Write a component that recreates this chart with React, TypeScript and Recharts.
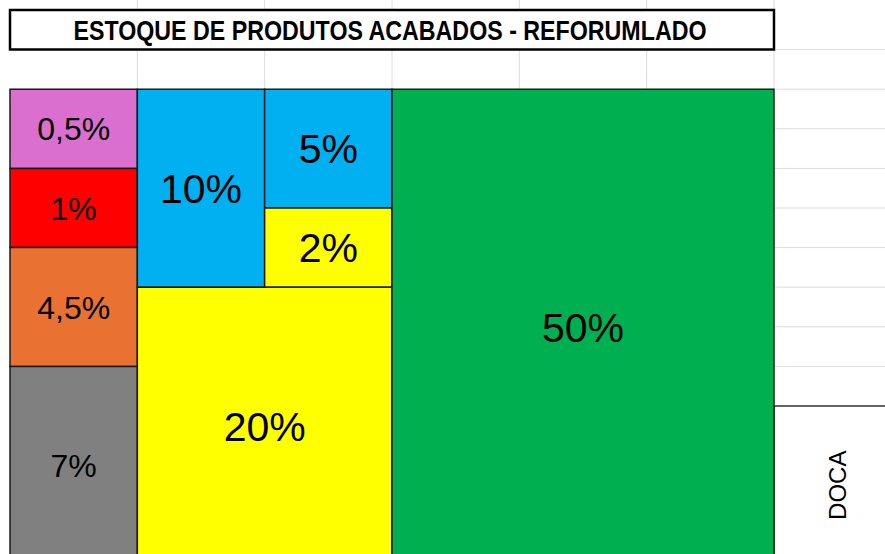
import { ComposedChart, XAxis, YAxis, CartesianGrid, ReferenceArea, Scatter } from "recharts";

// sheet layout: one unit = one spreadsheet column / row
const title = "ESTOQUE DE PRODUTOS ACABADOS - REFORUMLADO";
const dockLabel = "DOCA";

const blockShares = [0.5, 1, 4.5, 7, 10, 5, 2, 20, 50];
const blockColFrom = [0, 0, 0, 0, 1, 2, 2, 1, 3];
const blockColTo = [1, 1, 1, 1, 2, 3, 3, 3, 6];
const blockRowFrom = [2, 4, 6, 9, 2, 2, 5, 7, 2];
const blockRowTo = [4, 6, 9, 14, 7, 5, 7, 14, 14];

const dockCol = [6, 7];
const dockRow = [10, 14];

const colTicks = [1, 2, 3, 4, 5, 6];
const rowTicks = [1, 2, 3, 4, 5, 6, 7, 8, 9, 10, 11, 12, 13];

const blockColors = ["#DA6FCF", "#FF0000", "#E97132", "#808080", "#00B0F0", "#00B0F0", "#FFFF00", "#FFFF00", "#00B050"];
const labelSizes = [32, 32, 32, 32, 41, 41, 41, 41, 41];

const FONT = "'Liberation Sans', Arial, sans-serif";
const W = 885;
const H = 554;
const BLEED = 20; // chart is drawn a bit larger than the page so grid edges fall outside
const ORIGIN = 10; // page offset of the sheet's first cell
const COL_W = 127.33;
const ROW_H = 39.6;

const fmt = (v: number) => `${String(v).replace(".", ",")}%`;

const labelData = [
  ...blockShares.map((v, i) => ({
    col: (blockColFrom[i] + blockColTo[i]) / 2,
    row: (blockRowFrom[i] + blockRowTo[i]) / 2,
    text: fmt(v),
    size: labelSizes[i],
    angle: 0,
  })),
  { col: (dockCol[0] + dockCol[1]) / 2, row: (dockRow[0] + dockRow[1]) / 2, text: dockLabel, size: 24, angle: -90 },
];

function CellText(props: any) {
  const { cx, cy, payload } = props;
  return (
    <text
      x={cx}
      y={cy}
      dy="0.36em"
      textAnchor="middle"
      fontFamily={FONT}
      fontSize={payload.size}
      fill="#000"
      transform={payload.angle ? `rotate(${payload.angle}, ${cx}, ${cy})` : undefined}
    >
      {payload.text}
    </text>
  );
}

function TitleText(props: any) {
  const { x, y, width, height } = props.viewBox;
  return (
    <text
      x={x + width / 2 - 2}
      y={y + height / 2}
      dy="0.36em"
      textAnchor="middle"
      fontFamily="'Liberation Sans Narrow', 'Liberation Sans', Arial, sans-serif"
      fontWeight="bold"
      fontSize={28}
      fill="#000"
      textLength={633}
      lengthAdjust="spacingAndGlyphs"
    >
      {title}
    </text>
  );
}

export default function App() {
  const cw = W + 2 * BLEED;
  const ch = H + 2 * BLEED;
  const x0 = -(BLEED + ORIGIN) / COL_W;
  const x1 = (cw - BLEED - ORIGIN) / COL_W;
  const y0 = -(BLEED + ORIGIN) / ROW_H;
  const y1 = (ch - BLEED - ORIGIN) / ROW_H;
  return (
    <div style={{ position: "absolute", left: 0, top: 0, width: W, height: H, overflow: "hidden", background: "#fff", fontFamily: FONT }}>
      <div style={{ position: "absolute", left: -BLEED, top: -BLEED }}>
        <ComposedChart width={cw} height={ch} margin={{ top: 0, left: 0, right: 0, bottom: 0 }} data={labelData}>
          <XAxis type="number" dataKey="col" domain={[x0, x1]} ticks={colTicks} hide allowDataOverflow />
          <YAxis type="number" dataKey="row" domain={[y0, y1]} ticks={rowTicks} reversed hide allowDataOverflow />
          <CartesianGrid stroke="#DCDCDC" strokeWidth={1} />

          {/* blank page margin left of the sheet */}
          <ReferenceArea x1={x0} x2={0} y1={y0} y2={y1} fill="#fff" fillOpacity={1} stroke="none" ifOverflow="visible" />

          <ReferenceArea
            x1={dockCol[0]}
            x2={dockCol[1]}
            y1={dockRow[0]}
            y2={dockRow[1]}
            fill="#fff"
            fillOpacity={1}
            stroke="#333"
            strokeWidth={1.5}
            ifOverflow="visible"
          />

          {blockShares.map((v, i) => (
            <ReferenceArea
              key={i}
              x1={blockColFrom[i]}
              x2={blockColTo[i]}
              y1={blockRowFrom[i]}
              y2={blockRowTo[i]}
              fill={blockColors[i]}
              fillOpacity={1}
              stroke="#1b1b1b"
              strokeWidth={1.5}
              ifOverflow="visible"
            />
          ))}

          <ReferenceArea
            x1={0}
            x2={6}
            y1={0}
            y2={1}
            fill="#fff"
            fillOpacity={1}
            stroke="#000"
            strokeWidth={2.5}
            ifOverflow="visible"
            label={(p: any) => <TitleText {...p} />}
          />

          <Scatter dataKey="row" shape={(p: any) => <CellText {...p} />} isAnimationActive={false} />
        </ComposedChart>
      </div>
    </div>
  );
}
